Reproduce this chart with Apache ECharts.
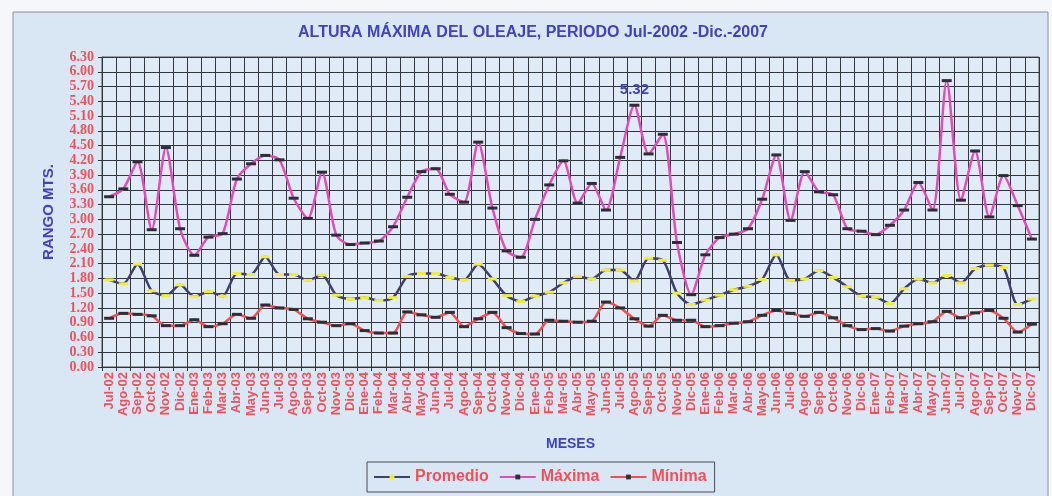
<!DOCTYPE html>
<html>
<head>
<meta charset="utf-8">
<script src="https://cdn.jsdelivr.net/npm/echarts@6/dist/echarts.min.js"></script>
<style>
  html, body { margin: 0; padding: 0; background: #f6f7fa; }
  #myChart { width: 1052px; height: 496px; }
</style>
</head>
<body>
<div id="myChart"></div>
<script>
// meses Jul-2002 .. Dic-2007
var meses = [
  'Jul-02','Ago-02','Sep-02','Oct-02','Nov-02','Dic-02',
  'Ene-03','Feb-03','Mar-03','Abr-03','May-03','Jun-03','Jul-03','Ago-03','Sep-03','Oct-03','Nov-03','Dic-03',
  'Ene-04','Feb-04','Mar-04','Abr-04','May-04','Jun-04','Jul-04','Ago-04','Sep-04','Oct-04','Nov-04','Dic-04',
  'Ene-05','Feb-05','Mar-05','Abr-05','May-05','Jun-05','Jul-05','Ago-05','Sep-05','Oct-05','Nov-05','Dic-05',
  'Ene-06','Feb-06','Mar-06','Abr-06','May-06','Jun-06','Jul-06','Ago-06','Sep-06','Oct-06','Nov-06','Dic-06',
  'Ene-07','Feb-07','Mar-07','Abr-07','May-07','Jun-07','Jul-07','Ago-07','Sep-07','Oct-07','Nov-07','Dic-07'
];

var promedio = [
  1.77,1.69,2.09,1.55,1.45,1.67,
  1.43,1.53,1.44,1.90,1.88,2.24,1.88,1.88,1.76,1.87,1.46,1.38,
  1.41,1.35,1.41,1.84,1.90,1.90,1.82,1.77,2.09,1.79,1.45,1.33,
  1.44,1.52,1.71,1.84,1.79,1.97,1.97,1.75,2.21,2.17,1.50,1.27,
  1.36,1.46,1.57,1.64,1.78,2.28,1.76,1.79,1.96,1.82,1.63,1.44,
  1.42,1.29,1.59,1.79,1.71,1.86,1.71,2.00,2.07,2.02,1.27,1.38
];

var maxima = [
  3.46,3.62,4.17,2.79,4.46,2.81,
  2.27,2.64,2.71,3.82,4.13,4.30,4.21,3.43,3.02,3.96,2.68,2.49,
  2.52,2.56,2.85,3.45,3.97,4.03,3.51,3.35,4.57,3.23,2.36,2.23,
  3.00,3.70,4.19,3.33,3.73,3.19,4.26,5.32,4.33,4.73,2.53,1.47,
  2.28,2.63,2.70,2.81,3.41,4.31,2.98,3.97,3.56,3.50,2.81,2.76,
  2.69,2.88,3.19,3.75,3.19,5.82,3.39,4.39,3.05,3.89,3.28,2.60
];

var minima = [
  0.99,1.09,1.07,1.04,0.84,0.84,
  0.96,0.82,0.88,1.07,0.99,1.26,1.20,1.17,0.98,0.91,0.84,0.88,
  0.74,0.69,0.69,1.12,1.06,1.01,1.11,0.82,0.98,1.11,0.80,0.68,
  0.67,0.95,0.93,0.91,0.93,1.32,1.20,0.98,0.83,1.05,0.95,0.95,
  0.82,0.84,0.89,0.92,1.05,1.15,1.09,1.03,1.11,1.00,0.84,0.76,
  0.78,0.73,0.83,0.88,0.92,1.13,1.00,1.10,1.15,0.99,0.71,0.87
];

// the one labelled point
var mesEtiqueta = 'Ago-05';

var azul = '#4242bd';
var rojo = '#f0505a';

var myChart = echarts.init(document.getElementById('myChart'));
var idxEtiqueta = meses.indexOf(mesEtiqueta);

myChart.setOption({
  backgroundColor: '#f6f7fa',
  graphic: [{
    type: 'rect',
    z: -10,
    shape: { x: 13, y: 12, width: 1035, height: 490 },
    style: { fill: '#d9e7f5', stroke: '#8a8f99', lineWidth: 1 }
  }],
  title: {
    text: 'ALTURA MÁXIMA DEL OLEAJE, PERIODO Jul-2002 -Dic.-2007',
    left: 528,
    textAlign: 'center',
    top: 20,
    textStyle: {
      color: azul,
      fontFamily: 'Liberation Sans',
      fontWeight: 'bold',
      fontSize: 16
    }
  },
  legend: {
    left: 367,
    top: 462,
    padding: [7, 8, 7, 6],
    borderColor: '#4a4a55',
    borderWidth: 1,
    itemWidth: 36,
    itemHeight: 6,
    itemGap: 10,
    data: ['Promedio', 'Máxima', 'Mínima'],
    textStyle: {
      color: rojo,
      fontFamily: 'Liberation Sans',
      fontWeight: 'bold',
      fontSize: 16
    }
  },
  grid: {
    left: 102,
    right: 13,
    top: 57,
    bottom: 129,
    show: true,
    backgroundColor: '#dfebf7',
    borderColor: '#555',
    borderWidth: 1
  },
  xAxis: {
    type: 'category',
    data: meses,
    boundaryGap: true,
    name: 'MESES',
    nameLocation: 'middle',
    nameGap: 70,
    nameTextStyle: {
      color: azul,
      fontFamily: 'Liberation Sans',
      fontWeight: 'bold',
      fontSize: 14
    },
    axisLine: { lineStyle: { color: '#333', width: 1 } },
    axisTick: { show: true, interval: 0, length: 4, lineStyle: { color: '#333' } },
    axisLabel: {
      interval: 0,
      rotate: 90,
      margin: 5,
      color: rojo,
      fontFamily: 'Liberation Sans',
      fontWeight: 'bold',
      fontSize: 13
    },
    splitLine: { show: true, interval: 0, lineStyle: { color: '#36363e', width: 1 } }
  },
  yAxis: {
    type: 'value',
    min: 0,
    max: 6.3,
    interval: 0.3,
    name: 'RANGO MTS.',
    nameLocation: 'middle',
    nameGap: 46,
    nameTextStyle: {
      color: azul,
      fontFamily: 'Liberation Sans',
      fontWeight: 'bold',
      fontSize: 15
    },
    axisLine: { show: true, lineStyle: { color: '#333', width: 1 } },
    axisTick: { show: true, length: 4, lineStyle: { color: '#333' } },
    axisLabel: {
      margin: 8,
      color: rojo,
      fontFamily: 'Liberation Serif',
      fontWeight: 'bold',
      fontSize: 14,
      formatter: function (v) { return v.toFixed(2); }
    },
    splitLine: { show: true, lineStyle: { color: '#36363e', width: 1 } }
  },
  series: [
    {
      name: 'Promedio',
      type: 'line',
      data: promedio,
      smooth: 0.25,
      symbol: 'rect',
      symbolSize: [9, 3],
      itemStyle: { color: '#f2ec3a' },
      lineStyle: { color: '#40406e', width: 2.5 },
      z: 3
    },
    {
      name: 'Máxima',
      type: 'line',
      data: maxima.map(function (v, i) {
        if (i !== idxEtiqueta) return v;
        return {
          value: v,
          label: {
            show: true,
            position: 'top',
            distance: 6,
            color: azul,
            fontFamily: 'Liberation Sans',
            fontWeight: 'bold',
            fontSize: 15,
            formatter: function (p) { return p.value.toFixed(2); }
          }
        };
      }),
      smooth: 0.25,
      symbol: 'rect',
      symbolSize: [10, 3],
      itemStyle: { color: '#2e2e36' },
      lineStyle: { color: '#e24cb8', width: 2.5 },
      z: 4
    },
    {
      name: 'Mínima',
      type: 'line',
      data: minima,
      smooth: 0.25,
      symbol: 'rect',
      symbolSize: [10, 3],
      itemStyle: { color: '#2e2e36' },
      lineStyle: { color: '#f05050', width: 2.5 },
      z: 3
    }
  ]
});
</script>
</body>
</html>
